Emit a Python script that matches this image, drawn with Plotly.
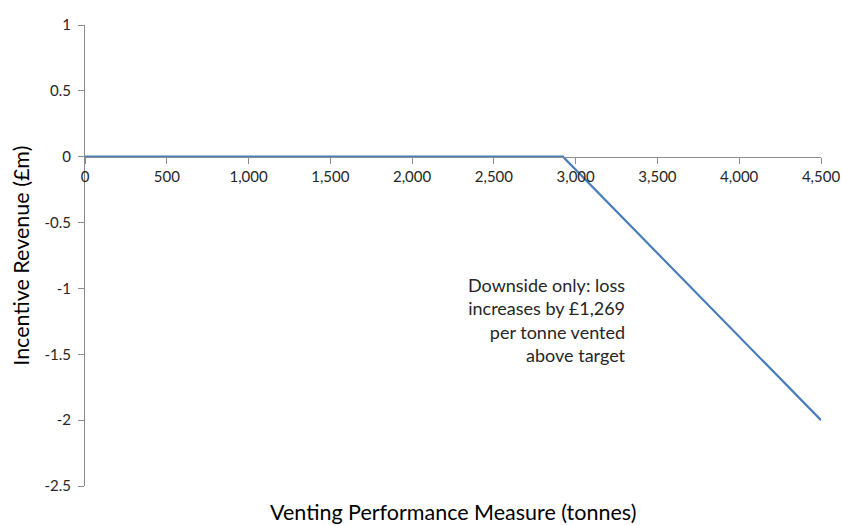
import plotly.graph_objects as go

# Venting performance (tonnes) and incentive revenue (£m)
venting_tonnes = [0, 2922, 4500]
revenue_m = [0, 0, -2.0]

x_ticks = [0, 500, 1000, 1500, 2000, 2500, 3000, 3500, 4000, 4500]
x_tick_labels = ["0", "500", "1,000", "1,500", "2,000", "2,500", "3,000", "3,500", "4,000", "4,500"]
y_ticks = [1, 0.5, 0, -0.5, -1, -1.5, -2, -2.5]
y_tick_labels = ["1", "0.5", "0", "-0.5", "-1", "-1.5", "-2", "-2.5"]

note = "Downside only: loss<br>increases by £1,269<br>per tonne vented<br>above target"

FONT = "Lato, 'Open Sans', sans-serif"
TEXT = "#262626"
AXIS = "#8c8c8c"

y_min, y_max = -2.5, 1.0
zero_pos = (0 - y_min) / (y_max - y_min)

fig = go.Figure()
fig.add_trace(go.Scatter(
    x=venting_tonnes, y=revenue_m, mode="lines",
    line=dict(color="#4a7ebb", width=2.2),
    hoverinfo="skip", showlegend=False, cliponaxis=False,
))

fig.update_layout(
    width=842, height=526,
    margin=dict(l=85, r=21, t=25, b=40, autoexpand=False),
    paper_bgcolor="white", plot_bgcolor="white",
    font=dict(family=FONT, color=TEXT, size=15),
    xaxis=dict(
        range=[0, 4500], tickvals=x_ticks, ticktext=x_tick_labels,
        showgrid=False, zeroline=False, automargin=False,
        showline=True, linecolor=AXIS, linewidth=1,
        ticks="outside", ticklen=6, tickcolor=AXIS,
        anchor="free", position=zero_pos,
        tickfont=dict(size=15, family=FONT, color=TEXT),
    ),
    yaxis=dict(
        range=[y_min, y_max], tickvals=y_ticks, ticktext=y_tick_labels,
        showgrid=False, zeroline=False, automargin=False,
        showline=True, linecolor=AXIS, linewidth=1,
        ticks="outside", ticklen=6, tickcolor=AXIS,
        tickfont=dict(size=15, family=FONT, color=TEXT),
        ticklabelstandoff=4,
    ),
    annotations=[
        dict(x=3321, y=-1.24, xref="x", yref="y", text=note, showarrow=False,
             xanchor="right", yanchor="middle", align="right",
             font=dict(size=18, family=FONT, color=TEXT)),
        dict(x=0.5, y=0, xref="paper", yref="paper", yshift=-26,
             text="Venting Performance Measure (tonnes)", showarrow=False,
             xanchor="center", yanchor="middle",
             font=dict(size=21.5, family=FONT, color="#000000")),
        dict(x=-0.088, y=0.5, xref="paper", yref="paper",
             text="Incentive Revenue (£m)", showarrow=False, textangle=-90,
             xanchor="center", yanchor="middle",
             font=dict(size=21.5, family=FONT, color="#000000")),
    ],
)

fig.write_html("out.html")
